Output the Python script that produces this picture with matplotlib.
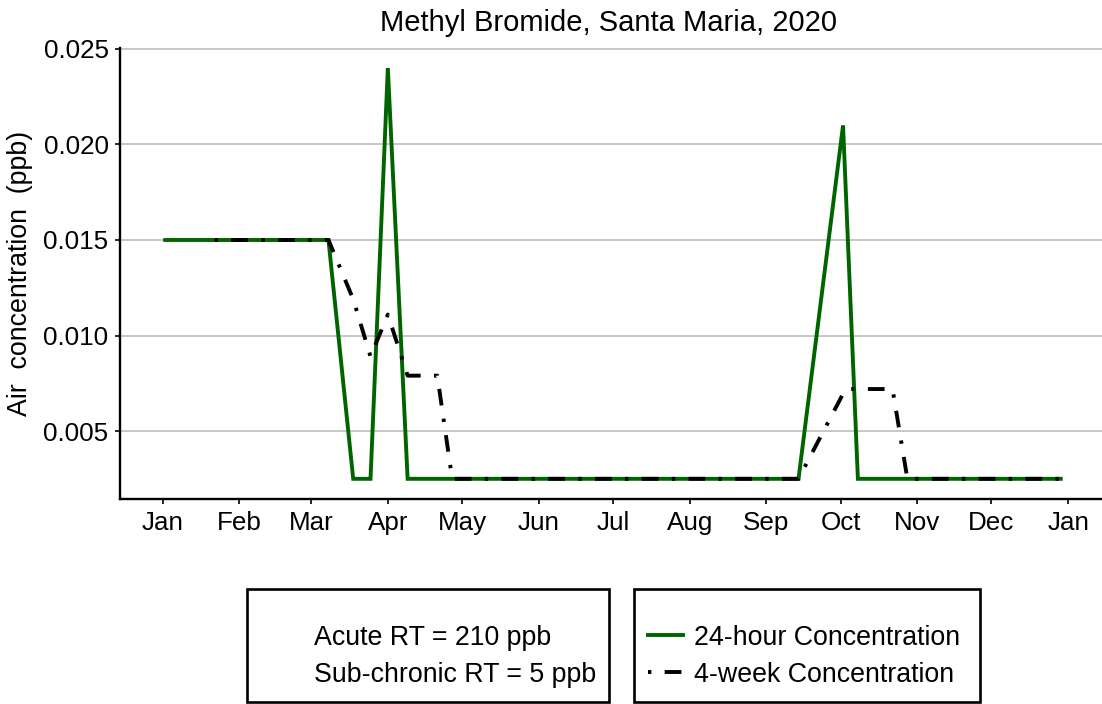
import matplotlib
matplotlib.use("Agg")
import matplotlib.pyplot as plt
import matplotlib.dates as mdates
from matplotlib.lines import Line2D
from matplotlib.patches import Rectangle
import pandas as pd

plt.rcParams['font.family'] = ['Liberation Sans', 'DejaVu Sans']

# ---- data ----
title = "Methyl Bromide, Santa Maria, 2020"
ylabel = "Air  concentration  (ppb)"
hour24_dates = ["2020-01-02", "2020-03-08", "2020-03-18", "2020-03-25", "2020-04-01",
                "2020-04-09", "2020-09-14", "2020-10-02", "2020-10-08", "2020-12-29"]
hour24_vals = [0.015, 0.015, 0.0025, 0.0025, 0.024,
               0.0025, 0.0025, 0.021, 0.0025, 0.0025]
week4_dates = ["2020-01-22", "2020-03-08", "2020-03-18", "2020-03-25", "2020-04-01",
               "2020-04-09", "2020-04-21", "2020-04-27", "2020-09-14", "2020-10-03",
               "2020-10-22", "2020-10-28", "2020-12-29"]
week4_vals = [0.015, 0.015, 0.0119, 0.0089, 0.0111,
              0.0079, 0.0079, 0.0025, 0.0025, 0.0072,
              0.0072, 0.0025, 0.0025]
yticks = [0.005, 0.010, 0.015, 0.020, 0.025]
ytick_labels = ["0.005", "0.010", "0.015", "0.020", "0.025"]
legend_labels = ["24-hour Concentration", "4-week Concentration"]
rt_labels = ["Acute RT = 210 ppb", "Sub-chronic RT = 5 ppb"]

GREEN = "#006400"
W, H = 1102, 704
fig = plt.figure(figsize=(W / 100, H / 100), dpi=100)

def fx(px):
    return px / W

def fy(py):
    return (H - py) / H

left_px, right_px, top_px, bot_px = 119.5, 1102, 47.6, 498.5
ax = fig.add_axes([fx(left_px), fy(bot_px), fx(right_px - left_px), (bot_px - top_px) / H])

d24 = pd.to_datetime(hour24_dates)
d4w = pd.to_datetime(week4_dates)

LW = 2.8
dotdash = (0, (0.86, 3.43, 4.3, 3.43))
ax.plot(d24, hour24_vals, color=GREEN, lw=LW, solid_joinstyle='miter', zorder=3)
ax.plot(d4w, week4_vals, color="black", lw=LW, linestyle=dotdash,
        dash_joinstyle='round', zorder=4)

# axes ranges
jan1 = mdates.date2num(pd.Timestamp("2020-01-01"))
ppd = 2.474
ax.set_xlim(jan1 + (left_px - 162.7) / ppd, jan1 + (right_px - 162.7) / ppd)
ax.set_ylim(0.00147, 0.02507)

ax.xaxis.set_major_locator(mdates.MonthLocator())
ax.xaxis.set_major_formatter(mdates.DateFormatter('%b'))
ax.set_yticks(yticks)
ax.set_yticklabels(ytick_labels)

ax.grid(axis='y', color='#BEBEBE', lw=1.2)
ax.grid(axis='x', visible=False)
ax.set_axisbelow(True)
for s in ['top', 'right']:
    ax.spines[s].set_visible(False)
for s in ['left', 'bottom']:
    ax.spines[s].set_linewidth(1.7)
    ax.spines[s].set_color('black')
ax.tick_params(axis='both', length=3.6, width=1.2, color='black',
               labelsize=18.7, labelcolor='black')
ax.tick_params(axis='y', pad=4.3)
ax.tick_params(axis='x', pad=5.5)

fig.text(fx(608), fy(31), title, ha='center', va='baseline', fontsize=21)
fig.text(fx(20.5), fy((top_px + bot_px) / 2), ylabel, rotation=90,
         ha='center', va='center', fontsize=19.3)

# ---- bottom legend boxes ----
box_top, box_bot = 589, 702
fig.add_artist(Rectangle((fx(247), fy(box_bot)), fx(609 - 247), (box_bot - box_top) / H,
                         transform=fig.transFigure, fill=False, ec='black', lw=1.9))
fig.add_artist(Rectangle((fx(634), fy(box_bot)), fx(980 - 634), (box_bot - box_top) / H,
                         transform=fig.transFigure, fill=False, ec='black', lw=1.9))
baselines = [645, 682]
for lbl, b in zip(rt_labels, baselines):
    fig.text(fx(314), fy(b), lbl, ha='left', va='baseline', fontsize=19.3)
styles = [dict(color=GREEN, lw=LW), dict(color='black', lw=LW, linestyle=dotdash)]
for lbl, b, st in zip(legend_labels, baselines, styles):
    yc = fy(b - 10.5)
    fig.add_artist(Line2D([fx(648), fx(683)], [yc, yc], transform=fig.transFigure, **st))
    fig.text(fx(694), fy(b), lbl, ha='left', va='baseline', fontsize=19.3)

fig.savefig("out.png", dpi=100)
